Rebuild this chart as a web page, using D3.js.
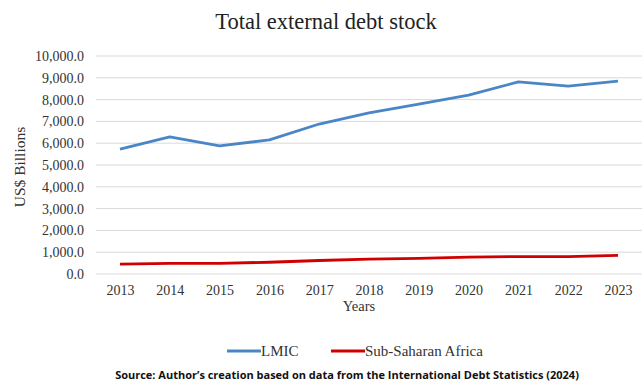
<!DOCTYPE html>
<html>
<head>
<meta charset="utf-8">
<script src="https://cdn.jsdelivr.net/npm/d3@7"></script>
<style>
  body { margin: 0; background: #fff; }
  svg { display: block; }
</style>
</head>
<body>
<svg id="chart" width="642" height="383"></svg>
<script>
const years = ["2013", "2014", "2015", "2016", "2017", "2018", "2019", "2020", "2021", "2022", "2023"];
const lmic = [5730, 6290, 5880, 6150, 6880, 7390, 7790, 8210, 8810, 8620, 8850];
const ssa = [450, 490, 490, 540, 620, 680, 720, 770, 800, 800, 850];
const y_ticks = [0, 1000, 2000, 3000, 4000, 5000, 6000, 7000, 8000, 9000, 10000];

const svg = d3.select("#chart");
const serif = "'Liberation Serif', 'Times New Roman', serif";

const x = d3.scalePoint()
    .domain(years)
    .range([120, 618]);

const y = d3.scaleLinear()
    .domain([0, 10000])
    .range([274, 56]);

// title
svg.append("text")
    .attr("x", 326)
    .attr("y", 29)
    .attr("text-anchor", "middle")
    .style("font-family", serif)
    .style("font-size", "22.5px")
    .attr("fill", "#222")
    .text("Total external debt stock");

// gridlines
svg.append("g")
    .selectAll("line")
    .data(y_ticks)
    .enter()
    .append("line")
    .attr("x1", 96)
    .attr("x2", 642)
    .attr("y1", d => y(d))
    .attr("y2", d => y(d))
    .attr("stroke", "#d9d9d9")
    .attr("stroke-width", 1);

// y axis labels
const fmt = d3.format(",.1f");
const y_axis = svg.append("g")
    .attr("transform", "translate(84,0)")
    .call(d3.axisLeft(y).tickValues(y_ticks).tickFormat(fmt).tickSize(0).tickPadding(0));
y_axis.select(".domain").remove();
y_axis.selectAll("text")
    .style("font-family", serif)
    .style("font-size", "14px")
    .attr("fill", "#333");

// x axis labels
const x_axis = svg.append("g")
    .attr("transform", "translate(0,285)")
    .call(d3.axisBottom(x).tickSize(0).tickPadding(0));
x_axis.select(".domain").remove();
x_axis.selectAll("text")
    .style("font-family", serif)
    .style("font-size", "14px")
    .attr("fill", "#333");

// axis titles
svg.append("text")
    .attr("transform", "translate(25,167) rotate(-90)")
    .attr("text-anchor", "middle")
    .style("font-family", serif)
    .style("font-size", "15.5px")
    .attr("fill", "#333")
    .text("US$ Billions");

svg.append("text")
    .attr("x", 359)
    .attr("y", 311)
    .attr("text-anchor", "middle")
    .style("font-family", serif)
    .style("font-size", "14.5px")
    .attr("fill", "#333")
    .text("Years");

// series lines
const line = d3.line()
    .x((d, i) => x(years[i]))
    .y(d => y(d));

const series = [
    { name: "LMIC", values: lmic, color: "#4a86c6" },
    { name: "Sub-Saharan Africa", values: ssa, color: "#d00000" }
];

svg.append("g")
    .selectAll("path")
    .data(series)
    .enter()
    .append("path")
    .attr("d", d => line(d.values))
    .attr("fill", "none")
    .attr("stroke", d => d.color)
    .attr("stroke-width", 2.8)
    .attr("stroke-linejoin", "round");

// legend
const legend_x = [227, 331];
const legend = svg.append("g")
    .selectAll("g")
    .data(series)
    .enter()
    .append("g")
    .attr("transform", (d, i) => `translate(${legend_x[i]},351)`);

legend.append("line")
    .attr("x1", 0)
    .attr("x2", 34)
    .attr("stroke", d => d.color)
    .attr("stroke-width", 2.8);

legend.append("text")
    .attr("x", 34)
    .attr("y", 5)
    .style("font-family", serif)
    .style("font-size", "15px")
    .attr("fill", "#333")
    .text(d => d.name);

// source
svg.append("text")
    .attr("x", 347)
    .attr("y", 379)
    .attr("text-anchor", "middle")
    .style("font-family", "'Open Sans', sans-serif")
    .style("font-weight", "bold")
    .style("font-size", "11px")
    .attr("fill", "#111")
    .text("Source: Author\u2019s creation based on data from the International Debt Statistics (2024)");
</script>
</body>
</html>
